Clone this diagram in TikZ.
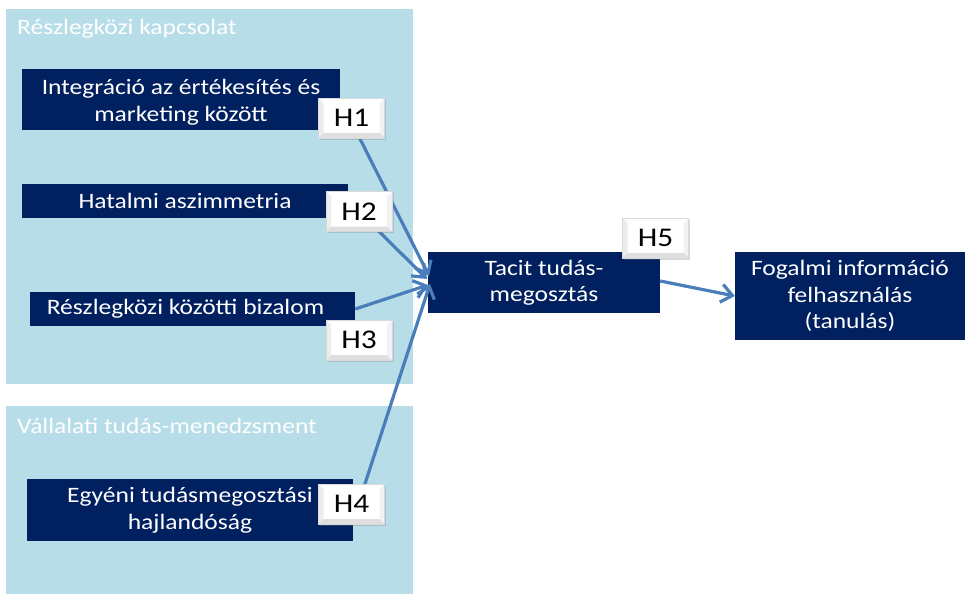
\documentclass[tikz,border=0pt]{standalone}
\usepackage{fontspec}
\setmainfont[FakeStretch=1.16]{Carlito}
\usetikzlibrary{arrows.meta,shadows}
\definecolor{panelblue}{RGB}{183,221,232}
\definecolor{navy}{RGB}{0,32,96}
\definecolor{arrowblue}{RGB}{74,126,187}
\tikzset{
  panel/.style={fill=panelblue, draw=none},
  navybox/.style={fill=navy, draw=none, text=white, align=center, inner sep=0pt,
    font=\fontsize{22}{26.5}\selectfont},
  boxtext/.style={text=white, align=center, inner sep=0pt, font=\fontsize{22}{26.5}\selectfont},
  hlabel/.style={fill=white, draw=gray!30, line width=0.5pt, inner sep=0pt,
    minimum width=66pt, minimum height=40pt, font=\fontsize{27}{30}\selectfont,
    drop shadow={shadow xshift=1.5pt, shadow yshift=-1.5pt, opacity=0.3},
    path picture={
      \fill[gray!15] (path picture bounding box.south west) -- (path picture bounding box.north west) -- ([xshift=5pt,yshift=-5pt]path picture bounding box.north west) -- ([xshift=5pt,yshift=5pt]path picture bounding box.south west) -- cycle;
      \fill[gray!25] (path picture bounding box.south west) -- (path picture bounding box.south east) -- ([xshift=-5pt,yshift=5pt]path picture bounding box.south east) -- ([xshift=5pt,yshift=5pt]path picture bounding box.south west) -- cycle;
      \fill[gray!10] (path picture bounding box.south east) -- (path picture bounding box.north east) -- ([xshift=-5pt,yshift=-5pt]path picture bounding box.north east) -- ([xshift=-5pt,yshift=5pt]path picture bounding box.south east) -- cycle;
    }},
  paneltitle/.style={text=white, anchor=base west, inner sep=0pt, font=\fontsize{22}{24}\selectfont},
  conn/.style={draw=arrowblue, line width=3.2pt, -{Straight Barb[length=11pt,width=18pt,line width=3.2pt]}}
}
\begin{document}
\begin{tikzpicture}[x=1pt,y=-1pt]
\path[use as bounding box] (0,0) rectangle (965,594);
% panels
\path[panel] (6,9) rectangle (413,384);
\path[panel] (6,406) rectangle (413,594);
\node[paneltitle] (t1) at (17,34.5) {Részlegközi kapcsolat};
\node[paneltitle] (t2) at (17,433.5) {Vállalati tudás-menedzsment};
% boxes
\node[navybox, minimum width=318pt, minimum height=61pt] (b1) at (181,99.5) {};
\node[boxtext] (b1t) at (181,102.5) {Integráció az értékesítés és\\marketing között};
\node[navybox, minimum width=326pt, minimum height=34pt] (b2) at (185,201) {Hatalmi aszimmetria};
\node[navybox, minimum width=325pt, minimum height=34pt] (b3) at (192.5,309) {\hspace*{-14pt}Részlegközi közötti bizalom};
\node[navybox, minimum width=326pt, minimum height=62pt] (b4) at (190,510) {Egyéni tudásmegosztási\\hajlandóság};
\node[navybox, minimum width=232pt, minimum height=61pt] (tacit) at (544,282.5) {Tacit tudás-\\megosztás};
\node[navybox, minimum width=230pt, minimum height=88pt] (fog) at (850,296) {Fogalmi információ\\felhasználás\\(tanulás)};
% connectors
\coordinate (e1) at (429,276);
\coordinate (e2) at (427,279);
\coordinate (e3) at (428,285);
\coordinate (e4) at (430,284);
\draw[conn] (b1.east) -- (e1);
\draw[conn] (b2.east) -- (e2);
\draw[conn] (b3.east) -- (e3);
\draw[conn] ([yshift=-10pt]b4.east) -- (e4);
\draw[conn] ([yshift=1.5pt]tacit.east) -- (fog.west);
% hypothesis labels
\node[hlabel] (h1) at (351.5,118) {H1};
\node[hlabel] (h2) at (359,211.5) {H2};
\node[hlabel] (h3) at (359,340) {H3};
\node[hlabel] (h4) at (351.5,504) {H4};
\node[hlabel] (h5) at (655.5,238) {H5};
\end{tikzpicture}
\end{document}
